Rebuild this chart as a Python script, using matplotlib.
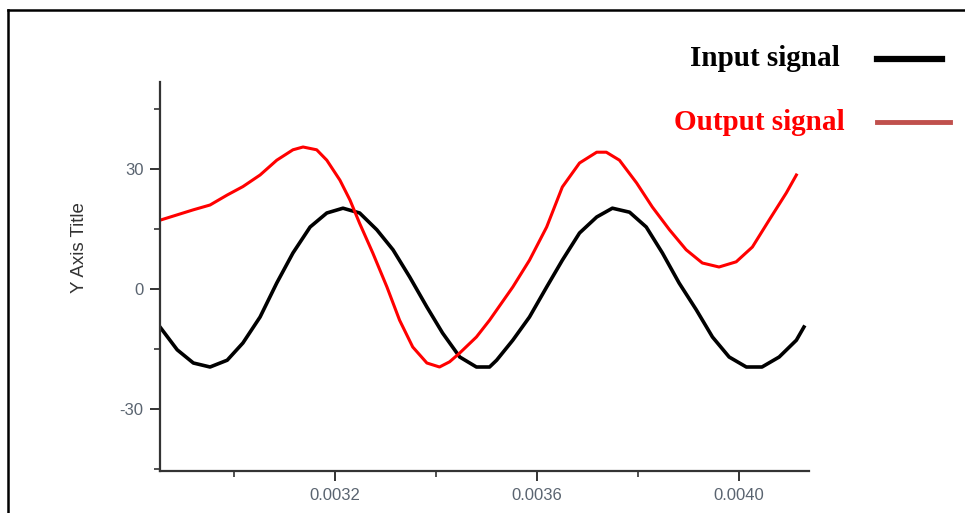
import numpy as np
import matplotlib.pyplot as plt
from matplotlib.lines import Line2D

plt.rcParams["axes.unicode_minus"] = False

# Input signal (black)
t_in = [0.002854, 0.002888, 0.002920, 0.002953, 0.002987, 0.003018, 0.003052,
        0.003085, 0.003117, 0.003151, 0.003184, 0.003216, 0.003249, 0.003283,
        0.003315, 0.003348, 0.003382, 0.003413, 0.003447, 0.003480, 0.003506,
        0.003520, 0.003552, 0.003585, 0.003619, 0.003650, 0.003684, 0.003718,
        0.003749, 0.003783, 0.003816, 0.003848, 0.003881, 0.003915, 0.003947,
        0.003980, 0.004014, 0.004045, 0.004079, 0.004113, 0.004128]
v_in = [-9.5, -15.2, -18.5, -19.5, -17.8, -13.5, -7.0,
        1.5, 9.0, 15.5, 19.0, 20.2, 19.0, 14.8,
        9.8, 3.0, -4.5, -11.0, -17.0, -19.5, -19.5,
        -17.8, -12.8, -7.0, 0.5, 7.2, 14.0, 18.0,
        20.2, 19.2, 15.5, 9.0, 1.5, -5.2, -12.0,
        -17.0, -19.5, -19.5, -17.0, -12.8, -9.5]

# Output signal (red)
t_out = [0.002854, 0.002920, 0.002953, 0.002987, 0.003018, 0.003052, 0.003085,
         0.003117, 0.003137, 0.003164, 0.003184, 0.003210, 0.003230, 0.003249,
         0.003275, 0.003303, 0.003328, 0.003354, 0.003382, 0.003407, 0.003427,
         0.003447, 0.003480, 0.003506, 0.003552, 0.003585, 0.003619, 0.003650,
         0.003684, 0.003718, 0.003737, 0.003763, 0.003797, 0.003828, 0.003862,
         0.003895, 0.003927, 0.003960, 0.003994, 0.004026, 0.004059, 0.004093,
         0.004113]
v_out = [17.2, 19.8, 21.0, 23.5, 25.6, 28.5, 32.2,
         34.8, 35.5, 34.8, 32.2, 27.2, 22.2, 16.4,
         9.0, 0.5, -7.8, -14.5, -18.5, -19.5, -18.2,
         -16.0, -12.0, -7.8, 0.5, 7.2, 15.5, 25.5,
         31.5, 34.2, 34.2, 32.2, 26.5, 20.5, 14.8,
         9.8, 6.5, 5.5, 6.8, 10.5, 17.2, 24.0,
         28.5]

legend_labels = ["Input signal", "Output signal"]
yticks = [-30, 0, 30]
xticks = [0.0032, 0.0036, 0.0040]

fig = plt.figure(figsize=(9.65, 5.13), dpi=100)
ax = fig.add_axes([160 / 965, 42 / 513, 649 / 965, 389 / 513])

ax.plot(t_in, v_in, color="black", lw=2.6)
ax.plot(t_out, v_out, color="#ff0000", lw=2.2)

ax.set_xlim(0.002854, 0.004138)
ax.set_ylim(-45.5, 51.75)

for s in ["top", "right"]:
    ax.spines[s].set_visible(False)
for s in ["left", "bottom"]:
    ax.spines[s].set_color("#333333")
    ax.spines[s].set_linewidth(1.6)

ax.set_xticks(xticks)
ax.set_xticklabels(["0.0032", "0.0036", "0.0040"])
ax.set_xticks([0.0030, 0.0034, 0.0038], minor=True)
ax.set_yticks(yticks)
ax.set_yticks([-45, -15, 15, 45], minor=True)
ax.tick_params(which="major", length=7, width=1.4, color="#333333",
               labelsize=12, labelcolor="#5a6470", pad=5)
ax.tick_params(which="minor", length=4, width=1.2, color="#333333")
for lab in ax.get_xticklabels() + ax.get_yticklabels():
    lab.set_family("Liberation Sans")

# y axis title
fig.text(79 / 965, 1 - 248 / 513, "Y Axis Title", rotation=90, ha="center",
         va="center", fontsize=13.5, color="#333333", family="Liberation Sans")

# legend drawn as text + line samples
fig.text(840 / 965, 1 - 59 / 513, legend_labels[0], ha="right", va="center",
         fontsize=21, fontweight="bold", family="Liberation Serif", color="black")
fig.text(845 / 965, 1 - 123 / 513, legend_labels[1], ha="right", va="center",
         fontsize=21, fontweight="bold", family="Liberation Serif", color="#ff0000")
fig.add_artist(Line2D([877 / 965, 942 / 965], [1 - 59 / 513, 1 - 59 / 513],
                      color="black", lw=4.5, transform=fig.transFigure))
fig.add_artist(Line2D([877 / 965, 950 / 965], [1 - 122 / 513, 1 - 122 / 513],
                      color="#c0504d", lw=3.5, transform=fig.transFigure))

# screenshot frame (top and left edges)
fig.add_artist(Line2D([8 / 965, 1], [1 - 10 / 513, 1 - 10 / 513],
                      color="black", lw=1.8, transform=fig.transFigure))
fig.add_artist(Line2D([8 / 965, 8 / 965], [0, 1 - 10 / 513],
                      color="black", lw=1.8, transform=fig.transFigure))

fig.savefig("out.png", dpi=100)
